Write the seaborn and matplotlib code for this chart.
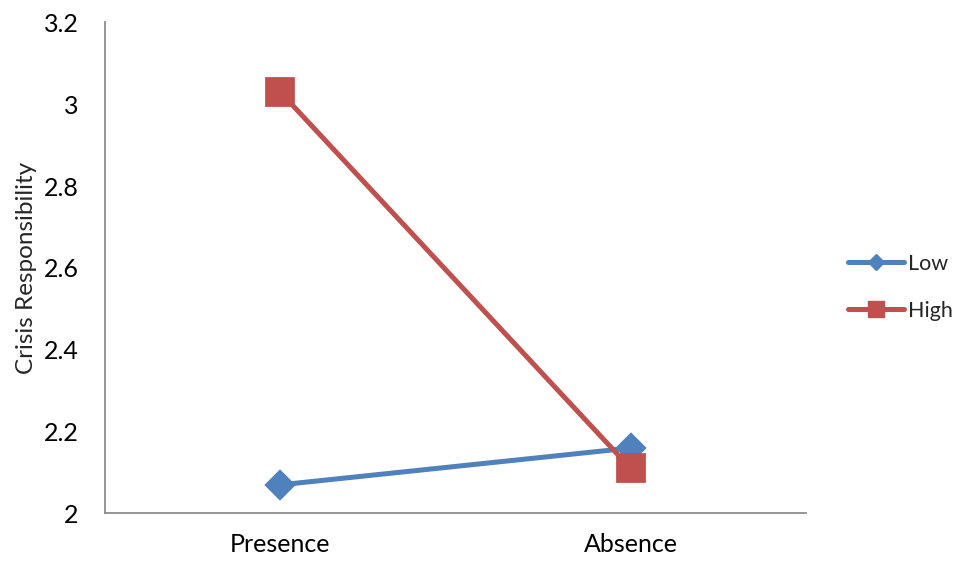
import matplotlib
matplotlib.use("Agg")
import matplotlib.pyplot as plt
from matplotlib.lines import Line2D
import seaborn as sns
import pandas as pd

# Crisis responsibility by condition and level
conditions = ["Presence", "Absence"]
levels = ["Low", "High"]
low_values = [2.07, 2.16]
high_values = [3.03, 2.11]
y_ticks = [2, 2.2, 2.4, 2.6, 2.8, 3, 3.2]
y_tick_labels = ["2", "2.2", "2.4", "2.6", "2.8", "3", "3.2"]

df = pd.DataFrame({
    "Condition": conditions * 2,
    "Level": ["Low"] * 2 + ["High"] * 2,
    "Responsibility": low_values + high_values,
})

sns.set_theme(style="white")
plt.rcParams["font.family"] = ["Lato", "DejaVu Sans"]

colors = {"Low": "#4F81BD", "High": "#C0504D"}
markers = {"Low": "D", "High": "s"}
msizes = {"Low": 13.5, "High": 19}

fig = plt.figure(figsize=(9.57, 5.61), dpi=100)
ax = fig.add_axes([0.1097, 0.0847, 0.7325, 0.8753])

for lvl in levels:
    sub = df[df["Level"] == lvl]
    sns.pointplot(data=sub, x="Condition", y="Responsibility", order=conditions,
                  color=colors[lvl], markers=markers[lvl], ax=ax,
                  markersize=msizes[lvl], linewidth=3.6, errorbar=None)

ax.set_ylim(2, 3.2)
ax.set_xlim(-0.5, 1.5)
ax.set_yticks(y_ticks)
ax.set_yticklabels(y_tick_labels)
ax.set_xlabel("")
ax.set_ylabel("Crisis Responsibility", fontsize=17.5, labelpad=5)
ax.tick_params(axis="both", length=0, labelsize=18, colors="black")
ax.tick_params(axis="y", pad=19)
ax.tick_params(axis="x", pad=14)
for side in ["top", "right"]:
    ax.spines[side].set_visible(False)
for side in ["left", "bottom"]:
    ax.spines[side].set_color("#8c8c8c")
    ax.spines[side].set_linewidth(1.3)

handles = [
    Line2D([0], [0], color=colors[lvl], marker=markers[lvl], linewidth=3.6,
           markersize=msizes[lvl] * 0.6, solid_capstyle="round")
    for lvl in levels
]
fig.legend(handles, levels, loc="center left", bbox_to_anchor=(0.886, 0.488),
           frameon=False, fontsize=15.5, handlelength=2.6, handletextpad=0.2,
           labelspacing=1.25, borderpad=0, borderaxespad=0)

fig.savefig("out.png", dpi=100, facecolor="white")
